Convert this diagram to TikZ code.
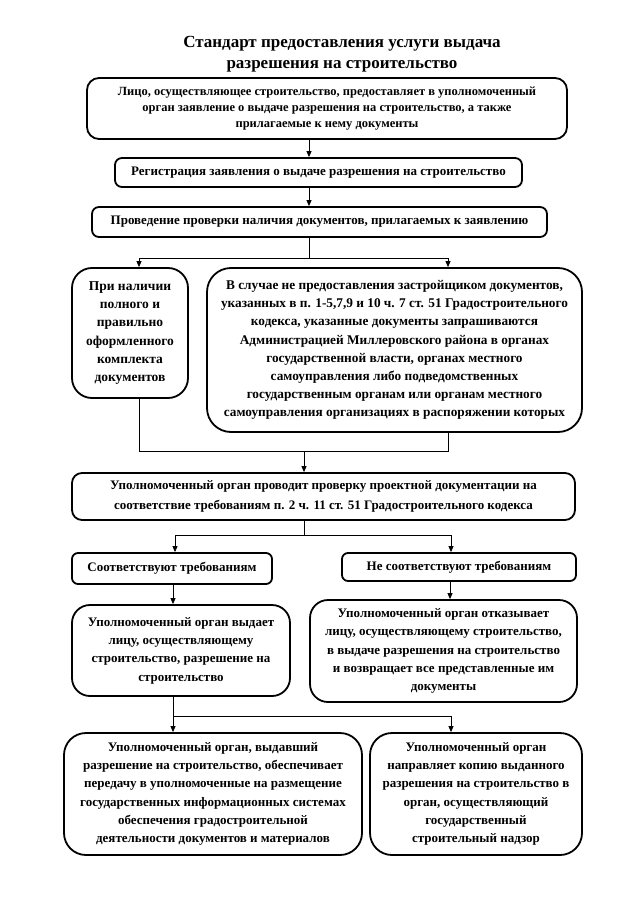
\documentclass[tikz,border=0pt]{standalone}
\usepackage{fontspec}
\setmainfont{Liberation Serif}
\usetikzlibrary{arrows.meta}
\begin{document}
\begin{tikzpicture}[x=1pt,y=-1pt,
  box/.style={draw=black, line width=1.8pt, rounded corners=#1, align=center,
    inner sep=0pt, font=\bfseries\fontsize{13}{18.3}\selectfont},
  box/.default=9pt,
  conn/.style={draw=black, line width=0.8pt},
  arr/.style={conn, -{Triangle[length=6pt,width=5pt]}},
  titlefont/.style={font=\bfseries\fontsize{17}{21}\selectfont, align=center}]
\useasboundingbox[fill=white] (0,0) rectangle (640,904);

\node[titlefont] (title) at (342,54) {Стандарт предоставления услуги выдача\\разрешения на строительство};

\node[box=12pt, minimum width=480pt, minimum height=61pt,
  font=\bfseries\fontsize{12.5}{16.3}\selectfont] (b1) at (327,108.5)
  {Лицо, осуществляющее строительство, предоставляет в уполномоченный\\орган заявление о выдаче разрешения на строительство, а также\\прилагаемые к нему документы};
\node[box=7pt, minimum width=407pt, minimum height=29pt] (b2) at (318.5,172.5)
  {Регистрация заявления о выдаче разрешения на строительство};
\node[box=7pt, minimum width=455pt, minimum height=30pt] (b3) at (319.5,222)
  {Проведение проверки наличия документов, прилагаемых к заявлению};
\node[box=20pt, minimum width=116pt, minimum height=130pt,
  font=\bfseries\fontsize{13.5}{18.3}\selectfont] (l1) at (130,333)
  {При наличии\\полного и\\правильно\\оформленного\\комплекта\\документов};
\node[box=24pt, minimum width=375pt, minimum height=164pt,
  font=\bfseries\fontsize{13.3}{18.2}\selectfont] (r1) at (394.5,350)
  {В случае не предоставления застройщиком документов,\\указанных в п. 1-5,7,9 и 10 ч. 7 ст. 51 Градостроительного\\кодекса, указанные документы запрашиваются\\Администрацией Миллеровского района в органах\\государственной власти, органах местного\\самоуправления либо подведомственных\\государственным органам или органам местного\\самоуправления организациях в распоряжении которых};
\node[box=10pt, minimum width=503pt, minimum height=47pt,
  font=\bfseries\fontsize{13}{19.5}\selectfont] (b4) at (323.5,496.5)
  {Уполномоченный орган проводит проверку проектной документации на\\соответствие требованиям п. 2 ч. 11 ст. 51 Градостроительного кодекса};
\node[box=6pt, minimum width=200pt, minimum height=31pt] (ok) at (172,568.5)
  {Соответствуют требованиям};
\node[box=6pt, minimum width=234pt, minimum height=28pt] (no) at (459,567)
  {Не соответствуют требованиям};
\node[box=18pt, minimum width=218pt, minimum height=91pt] (iss) at (181,650.5)
  {Уполномоченный орган выдает\\лицу, осуществляющему\\строительство, разрешение на\\строительство};
\node[box=18pt, minimum width=267pt, minimum height=102pt] (ref) at (443.5,651)
  {Уполномоченный орган отказывает\\лицу, осуществляющему строительство,\\в выдаче разрешения на строительство\\и возвращает все представленные им\\документы};
\node[box=22pt, minimum width=298pt, minimum height=122pt] (bl) at (213,794)
  {Уполномоченный орган, выдавший\\разрешение на строительство, обеспечивает\\передачу в уполномоченные на размещение\\государственных информационных системах\\обеспечения градостроительной\\деятельности документов и материалов};
\node[box=22pt, minimum width=212pt, minimum height=122pt] (br) at (476,794)
  {Уполномоченный орган\\направляет копию выданного\\разрешения на строительство в\\орган, осуществляющий\\государственный\\строительный надзор};

% column coordinates
\coordinate (c0) at (309,0);
\coordinate (cL) at (139,0);
\coordinate (cR) at (448,0);
\coordinate (j1) at (309,258);
\coordinate (j2) at (304,451);
\coordinate (j3) at (304,535);
\coordinate (cA) at (175,0);
\coordinate (cB) at (451,0);
\coordinate (cC) at (173,0);
\coordinate (cD) at (450,0);
\coordinate (j4) at (173,716);

\draw[arr] (b1.south -| c0) -- (b2.north -| c0);
\draw[arr] (b2.south -| c0) -- (b3.north -| c0);
\draw[conn] (b3.south -| c0) -- (j1);
\draw[arr] (j1) -| (l1.north -| cL);
\draw[arr] (j1) -| (r1.north -| cR);
\draw[conn] (l1.south -| cL) -- (cL |- j2) -- (cR |- j2) -- (r1.south -| cR);
\draw[arr] (j2) -- (b4.north -| j2);
\draw[conn] (b4.south -| j3) -- (j3);
\draw[arr] (j3) -| (ok.north -| cA);
\draw[arr] (j3) -| (no.north -| cB);
\draw[arr] (ok.south -| cC) -- (iss.north -| cC);
\draw[arr] (no.south -| cD) -- (ref.north -| cD);
\draw[arr] (iss.south -| cC) -- (bl.north -| cC);
\draw[arr] (j4) -| (br.north -| cB);
\end{tikzpicture}
\end{document}
